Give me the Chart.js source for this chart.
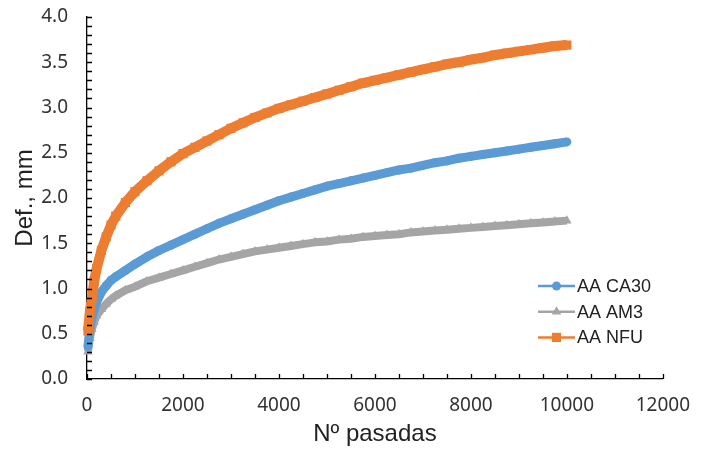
<!DOCTYPE html>
<html>
<head>
<meta charset="utf-8">
<title>Def. vs Nº pasadas</title>
<script src="https://cdn.jsdelivr.net/npm/chart.js@4.4.1/dist/chart.umd.min.js"></script>
<style>
    html, body { margin: 0; padding: 0; background: #fff; }
    #wrap { width: 705px; height: 451px; position: relative; }
</style>
</head>
<body>
<div id="wrap"><canvas id="chart" width="705" height="451"></canvas></div>
<script>
'use strict';

var passes = [20, 60, 100, 150, 200, 300, 400, 500, 600, 800, 1000,
    1250, 1500, 1750, 2000, 2250, 2500, 2750, 3000, 3250, 3500, 3750, 4000,
    4250, 4500, 4750, 5000, 5250, 5500, 5750, 6000, 6250, 6500, 6750, 7000,
    7250, 7500, 7750, 8000, 8250, 8500, 8750, 9000, 9250, 9500, 9750, 10000];

var defCA30 = [0.36, 0.56, 0.67, 0.77, 0.85, 0.96, 1.03, 1.09, 1.13, 1.20, 1.27,
    1.35, 1.42, 1.48, 1.54, 1.60, 1.66, 1.72, 1.77, 1.82, 1.87, 1.92, 1.97,
    2.01, 2.05, 2.09, 2.13, 2.16, 2.19, 2.22, 2.25, 2.28, 2.31, 2.33, 2.36,
    2.39, 2.41, 2.44, 2.46, 2.48, 2.50, 2.52, 2.54, 2.56, 2.58, 2.60, 2.62];

var defAM3 = [0.30, 0.45, 0.55, 0.63, 0.70, 0.77, 0.83, 0.88, 0.92, 0.98, 1.02,
    1.08, 1.12, 1.16, 1.20, 1.24, 1.28, 1.32, 1.35, 1.38, 1.41, 1.43, 1.45,
    1.47, 1.49, 1.51, 1.52, 1.54, 1.55, 1.57, 1.58, 1.59, 1.60, 1.62, 1.63,
    1.64, 1.65, 1.66, 1.67, 1.68, 1.69, 1.70, 1.71, 1.72, 1.73, 1.74, 1.75];

var defNFU = [0.53, 0.75, 0.89, 1.08, 1.22, 1.42, 1.57, 1.70, 1.80, 1.95, 2.07,
    2.19, 2.30, 2.40, 2.49, 2.56, 2.63, 2.70, 2.77, 2.83, 2.89, 2.94, 2.99,
    3.03, 3.07, 3.11, 3.15, 3.19, 3.23, 3.27, 3.30, 3.33, 3.36, 3.39, 3.42,
    3.45, 3.48, 3.50, 3.53, 3.55, 3.58, 3.60, 3.62, 3.64, 3.66, 3.68, 3.69];

var seriesNames = ['AA CA30', 'AA AM3', 'AA NFU'];
var seriesColors = ['#5B9BD5', '#A5A5A5', '#ED7D31'];
var seriesMarkers = ['circle', 'triangle', 'rect'];
var seriesRadius = [4.5, 5.5, 6.5];
var bandWidth = [9, 8, 10];

var xMax = 12000;
var xStep = 2000;
var xMinorStep = 500;
var yMax = 4.0;
var yStep = 0.5;
var yMinorStep = 0.1;

var labelFont = 'Liberation Sans, Arial, sans-serif';
var tickFont = 'Noto Sans, Open Sans, sans-serif';

function toPoints(values) {
    return values.map(function (v, i) {
        return {x: passes[i], y: v};
    });
}

function makeDataset(idx, values, order) {
    return {
        label: seriesNames[idx],
        data: toPoints(values),
        borderColor: seriesColors[idx],
        backgroundColor: seriesColors[idx],
        // the reference markers overlap into a thick band
        borderWidth: bandWidth[idx],
        borderJoinStyle: 'round',
        pointStyle: seriesMarkers[idx],
        pointRadius: seriesRadius[idx],
        pointBorderWidth: 0,
        pointHoverRadius: seriesRadius[idx],
        tension: 0,
        clip: false,
        order: order
    };
}

// Excel style tick marks that point into the plot area
var insideTicks = {
    id: 'insideTicks',
    afterDatasetsDraw: function (chart) {
        var ctx = chart.ctx;
        var xs = chart.scales.x;
        var ys = chart.scales.y;
        var area = chart.chartArea;
        var v, p;
        ctx.save();
        ctx.strokeStyle = '#000';
        ctx.lineWidth = 1.3;
        ctx.beginPath();
        for (v = 0; v <= xMax + 1e-6; v += xMinorStep) {
            p = Math.round(xs.getPixelForValue(v)) + 0.5;
            ctx.moveTo(p, area.bottom);
            ctx.lineTo(p, area.bottom - 5);
        }
        for (var i = 0; i <= Math.round(yMax / yMinorStep); i++) {
            p = Math.round(ys.getPixelForValue(i * yMinorStep)) + 0.5;
            ctx.moveTo(area.left, p);
            ctx.lineTo(area.left + 5, p);
        }
        ctx.stroke();
        ctx.restore();
    }
};

// Legend drawn as line + marker, like the spreadsheet one
var lineLegend = {
    id: 'lineLegend',
    afterDraw: function (chart) {
        var ctx = chart.ctx;
        var left = 538, lineLen = 37, top = 286, rowH = 25.7;
        ctx.save();
        ctx.font = '18px ' + labelFont;
        ctx.textBaseline = 'middle';
        seriesNames.forEach(function (name, i) {
            var y = top + i * rowH;
            ctx.strokeStyle = seriesColors[i];
            ctx.fillStyle = seriesColors[i];
            ctx.lineWidth = 2.5;
            ctx.beginPath();
            ctx.moveTo(left, y);
            ctx.lineTo(left + lineLen, y);
            ctx.stroke();
            Chart.helpers.drawPoint(ctx, {
                pointStyle: seriesMarkers[i],
                radius: seriesRadius[i],
                rotation: 0,
                borderWidth: 0
            }, left + lineLen / 2, y);
            ctx.fillStyle = '#222';
            ctx.fillText(name, left + lineLen + 2, y + 1);
        });
        ctx.restore();
    }
};

var ctx = document.getElementById('chart').getContext('2d');

new Chart(ctx, {
    type: 'line',
    data: {
        datasets: [
            makeDataset(0, defCA30, 2),
            makeDataset(1, defAM3, 3),
            makeDataset(2, defNFU, 1)
        ]
    },
    options: {
        responsive: false,
        animation: false,
        events: [],
        layout: {padding: {top: 17, right: 38, left: 0, bottom: 0}},
        plugins: {
            legend: {display: false},
            tooltip: {enabled: false}
        },
        scales: {
            x: {
                type: 'linear',
                min: 0,
                max: xMax,
                afterFit: function (scale) { scale.height = 72; },
                ticks: {
                    stepSize: xStep,
                    padding: 15,
                    color: '#333',
                    font: {family: tickFont, size: 19},
                    maxRotation: 0,
                    callback: function (v) { return String(v); }
                },
                grid: {display: true, drawOnChartArea: false, drawTicks: false},
                border: {display: true, color: '#000', width: 1.3},
                title: {
                    display: true,
                    text: 'Nº pasadas',
                    color: '#222',
                    font: {family: labelFont, size: 24},
                    padding: {top: 0, bottom: 2}
                }
            },
            y: {
                type: 'linear',
                min: 0,
                max: yMax,
                afterFit: function (scale) {
                    scale.width = 87;
                    // tick padding would otherwise be added above/below the plot
                    scale.paddingTop = 0;
                    scale.paddingBottom = 0;
                },
                ticks: {
                    stepSize: yStep,
                    padding: 19,
                    color: '#333',
                    font: {family: tickFont, size: 19},
                    callback: function (v) { return v.toFixed(1); }
                },
                grid: {display: true, drawOnChartArea: false, drawTicks: false},
                border: {display: true, color: '#000', width: 1.3},
                title: {
                    display: true,
                    text: 'Def., mm',
                    color: '#222',
                    font: {family: labelFont, size: 24},
                    padding: {top: 11, bottom: 0}
                }
            }
        }
    },
    plugins: [insideTicks, lineLegend]
});
</script>
</body>
</html>
